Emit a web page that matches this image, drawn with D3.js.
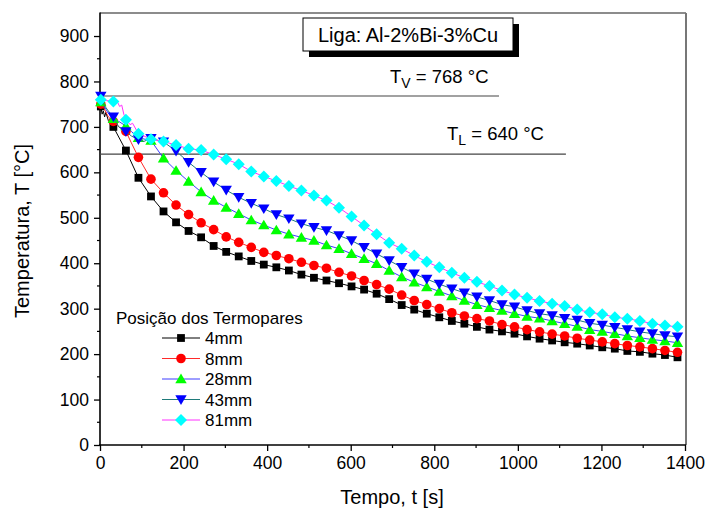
<!DOCTYPE html>
<html>
<head>
<meta charset="utf-8">
<script src="https://cdn.jsdelivr.net/npm/d3@7/dist/d3.min.js"></script>
<style>
  html, body { margin: 0; padding: 0; background: #fff; }
  svg { display: block; font-family: "Liberation Sans", Arial, sans-serif; }
</style>
</head>
<body>
<svg id="chart" width="707" height="510"></svg>
<script>
// Sampling instants of the plotted markers (s)
const times = [2, 32, 62, 92, 122, 152, 182, 212, 242, 272, 302, 332, 362, 392, 422, 452, 482, 512,
  542, 572, 602, 632, 662, 692, 722, 752, 782, 812, 842, 872, 902, 932, 962, 992, 1022, 1052,
  1082, 1112, 1142, 1172, 1202, 1232, 1262, 1292, 1322, 1352, 1382];

// Thermocouple temperatures (°C) at each instant
const temp4mm = [745, 700, 648, 588, 547, 514, 490, 471, 457, 438, 425, 415, 405, 397, 391, 384, 375, 368,
  362, 356, 349, 342, 333, 321, 308, 298, 289, 281, 273, 267, 260, 254, 250, 245, 239, 234,
  230, 226, 223, 219, 215, 212, 207, 205, 201, 198, 193];
const temp8mm = [750, 712, 690, 633, 585, 555, 528, 507, 489, 474, 458, 446, 435, 424, 417, 410, 402, 395,
  389, 380, 372, 362, 353, 343, 330, 318, 309, 300, 291, 284, 278, 273, 265, 260, 254, 249,
  244, 240, 235, 231, 227, 223, 219, 216, 212, 208, 204];
const temp28mm = [755, 718, 702, 676, 670, 631, 604, 580, 557, 538, 523, 509, 495, 484, 473, 464, 457, 450,
  440, 432, 421, 410, 399, 384, 370, 358, 348, 338, 328, 318, 309, 302, 296, 289, 283, 279,
  273, 267, 261, 254, 250, 245, 240, 236, 232, 229, 225];
const temp43mm = [768, 722, 690, 672, 675, 667, 647, 622, 600, 579, 561, 545, 532, 520, 507, 498, 487, 479,
  472, 461, 450, 435, 421, 406, 391, 377, 365, 354, 344, 335, 326, 318, 309, 304, 296, 289,
  285, 279, 275, 268, 264, 259, 254, 249, 245, 241, 238];
const temp81mm = [760, 756, 716, 685, 673, 668, 660, 652, 649, 639, 629, 618, 602, 591, 581, 570, 560, 549,
  538, 522, 503, 483, 464, 445, 432, 417, 403, 391, 379, 368, 359, 350, 340, 331, 324, 317,
  311, 306, 298, 292, 288, 281, 278, 273, 267, 263, 260];

// Extra readings between markers during the first seconds (line only)
const early4mm = [[5, 728], [8, 735], [11, 722], [14, 732], [20, 714]];
const early8mm = [[10, 740], [20, 722], [45, 700], [75, 665]];
const early28mm = [[10, 745], [20, 730], [45, 712], [75, 690]];
const early43mm = [[10, 748], [20, 735], [45, 700], [75, 680], [105, 668]];
const early81mm = [[15, 758], [40, 758], [47, 745], [52, 748], [57, 728], [72, 705], [78, 708], [100, 682], [110, 678]];

const seriesNames = ["4mm", "8mm", "28mm", "43mm", "81mm"];
const markerColors = ["#000000", "#ff0000", "#00ff00", "#0000ff", "#00ffff"];
const lineColors = ["#000000", "#ff2a2a", "#3c3cff", "#1f7a7a", "#ff30ff"];
const markerShapes = ["square", "circle", "triangleUp", "triangleDown", "diamond"];

const xTicks = [0, 200, 400, 600, 800, 1000, 1200, 1400];
const xMinor = [100, 300, 500, 700, 900, 1100, 1300];
const yTicks = [0, 100, 200, 300, 400, 500, 600, 700, 800, 900];
const yMinor = [50, 150, 250, 350, 450, 550, 650, 750, 850];

const alloyLabel = "Liga: Al-2%Bi-3%Cu";
const tV = 768, tVEnd = 955;
const tL = 640, tLEnd = 1115;

const svg = d3.select("#chart");
const x = d3.scaleLinear().domain([0, 1400]).range([100, 685]);
const y = d3.scaleLinear().domain([0, 950]).range([445, 13.3]);

// Marker path generators
function markerPath(shape) {
  switch (shape) {
    case "square": return "M-3.9,-3.9H3.9V3.9H-3.9Z";
    case "circle": return d3.symbol(d3.symbolCircle, Math.PI * 4.8 * 4.8)();
    case "triangleUp": return "M0,-5.4L5.7,4.3L-5.7,4.3Z";
    case "triangleDown": return "M0,5.4L5.7,-4.3L-5.7,-4.3Z";
    case "diamond": return "M0,-6L6,0L0,6L-6,0Z";
  }
}

// Axes
const yAxis = d3.axisLeft(y).tickValues(yTicks).tickFormat(d3.format("d")).tickSize(6).tickSizeOuter(0).tickPadding(5);
const xAxis = d3.axisBottom(x).tickValues(xTicks).tickFormat(d3.format("d")).tickSize(6).tickSizeOuter(0).tickPadding(6);

const gy = svg.append("g").attr("transform", "translate(100,0)").call(yAxis);
gy.select(".domain").remove();
gy.selectAll(".tick line").attr("stroke", "#000").attr("stroke-width", 1.3);
gy.selectAll(".tick text").attr("font-size", 17.5).attr("font-family", "Liberation Sans, Arial, sans-serif").attr("fill", "#000");
svg.append("g").selectAll("line").data(yMinor).join("line")
  .attr("x1", 100).attr("x2", 97).attr("y1", d => y(d)).attr("y2", d => y(d))
  .attr("stroke", "#000").attr("stroke-width", 1.2);

const gx = svg.append("g").attr("transform", "translate(0,445)").call(xAxis);
gx.select(".domain").remove();
gx.selectAll(".tick line").attr("stroke", "#000").attr("stroke-width", 1.3);
gx.selectAll(".tick text").attr("font-size", 17.5).attr("font-family", "Liberation Sans, Arial, sans-serif").attr("fill", "#000");
svg.append("g").selectAll("line").data(xMinor).join("line")
  .attr("y1", 445).attr("y2", 448).attr("x1", d => x(d)).attr("x2", d => x(d))
  .attr("stroke", "#000").attr("stroke-width", 1.2);

// Frame
svg.append("line").attr("x1", 100).attr("x2", 686).attr("y1", 13).attr("y2", 13).attr("stroke", "#666").attr("stroke-width", 1.5);
svg.append("line").attr("x1", 686).attr("x2", 686).attr("y1", 13).attr("y2", 445).attr("stroke", "#777").attr("stroke-width", 2);
svg.append("line").attr("x1", 100).attr("x2", 100).attr("y1", 12.5).attr("y2", 446).attr("stroke", "#000").attr("stroke-width", 1.6);
svg.append("line").attr("x1", 99).attr("x2", 686).attr("y1", 445).attr("y2", 445).attr("stroke", "#000").attr("stroke-width", 1.6);

// Reference temperature lines
svg.append("line").attr("x1", x(0)).attr("x2", x(tVEnd)).attr("y1", y(tV)).attr("y2", y(tV)).attr("stroke", "#444").attr("stroke-width", 1.2);
svg.append("line").attr("x1", x(0)).attr("x2", x(tLEnd)).attr("y1", y(tL)).attr("y2", y(tL)).attr("stroke", "#444").attr("stroke-width", 1.2);

function subLabel(xPos, yPos, sub, value) {
  const t = svg.append("text").attr("x", xPos).attr("y", yPos).attr("font-size", 18.5).attr("fill", "#000");
  t.append("tspan").text("T");
  t.append("tspan").attr("dy", 5).attr("font-size", 14).text(sub);
  t.append("tspan").attr("dy", -5).text(" = " + value + " °C");
}
subLabel(390, 83, "V", tV);
subLabel(447, 140, "L", tL);

// Series
const allTemps = [temp4mm, temp8mm, temp28mm, temp43mm, temp81mm];
const earlies = [early4mm, early8mm, early28mm, early43mm, early81mm];
const line = d3.line().x(d => x(d[0])).y(d => y(d[1]));

allTemps.forEach((vals, i) => {
  const pts = times.map((t, k) => [t, vals[k]]);
  const linePts = pts.concat(earlies[i]).sort((a, b) => a[0] - b[0]);
  const g = svg.append("g");
  g.append("path").attr("d", line(linePts)).attr("fill", "none")
    .attr("stroke", lineColors[i]).attr("stroke-width", 1);
  g.selectAll("path.m").data(pts).join("path").attr("class", "m")
    .attr("d", markerPath(markerShapes[i]))
    .attr("transform", d => `translate(${x(d[0])},${y(d[1])})`)
    .attr("fill", markerColors[i]);
});

// Alloy label box with drop shadow
const box = { x: 303, y: 18, w: 210, h: 33 };
svg.append("rect").attr("x", box.x + 6).attr("y", box.y + 6).attr("width", box.w).attr("height", box.h).attr("fill", "#000");
svg.append("rect").attr("x", box.x).attr("y", box.y).attr("width", box.w).attr("height", box.h)
  .attr("fill", "#fff").attr("stroke", "#000").attr("stroke-width", 1);
svg.append("text").attr("x", box.x + box.w / 2).attr("y", box.y + 24).attr("text-anchor", "middle")
  .attr("font-size", 20).attr("fill", "#000").text(alloyLabel);

// Legend
const legend = svg.append("g");
legend.append("text").attr("x", 116).attr("y", 324).attr("font-size", 17).attr("fill", "#000").text("Posição dos Termopares");
seriesNames.forEach((name, i) => {
  const cy = 338 + i * 20.5;
  legend.append("line").attr("x1", 162).attr("x2", 200).attr("y1", cy).attr("y2", cy)
    .attr("stroke", lineColors[i]).attr("stroke-width", 1);
  legend.append("path").attr("d", markerPath(markerShapes[i]))
    .attr("transform", `translate(181,${cy})`).attr("fill", markerColors[i]);
  legend.append("text").attr("x", 205).attr("y", cy + 6).attr("font-size", 17).attr("fill", "#000").text(name);
});

// Axis titles
svg.append("text").attr("x", 392).attr("y", 504).attr("text-anchor", "middle").attr("font-size", 20).attr("fill", "#000").text("Tempo, t [s]");
svg.append("text").attr("transform", "translate(29,231) rotate(-90)").attr("text-anchor", "middle")
  .attr("font-size", 20).attr("fill", "#000").text("Temperatura, T [°C]");
</script>
</body>
</html>
